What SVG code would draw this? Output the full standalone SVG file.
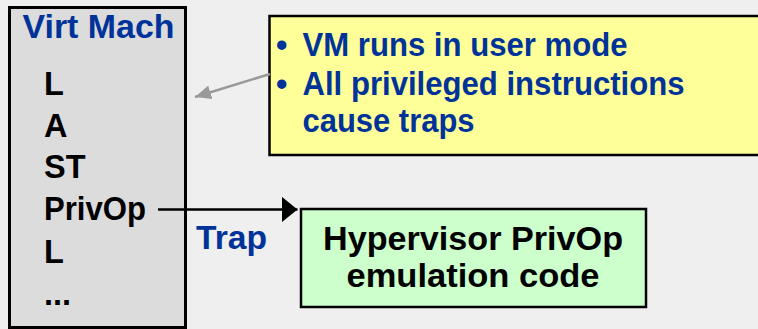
<svg xmlns="http://www.w3.org/2000/svg" width="758" height="329" viewBox="0 0 758 329">
<defs>
<style>
text{font-family:"Liberation Sans",Arial,Helvetica,sans-serif;font-weight:bold;font-size:32.5px;}
.k{fill:#000;}
.b{fill:#003399;}
</style>
<marker id="ah" viewBox="0 0 16 26" refX="16" refY="13" markerWidth="16" markerHeight="26" markerUnits="userSpaceOnUse" orient="auto"><path d="M0,0 L16,13 L0,26 Z" fill="#000"/></marker>
<marker id="ag" viewBox="0 0 16 14" refX="16" refY="7" markerWidth="16" markerHeight="14" markerUnits="userSpaceOnUse" orient="auto"><path d="M0,0 L16,7 L0,14 Z" fill="#999"/></marker>
</defs>
<rect x="0" y="0" width="758" height="329" fill="#efefef"/>
<g id="vm">
<rect x="9.5" y="7.5" width="176" height="320" fill="#dcdcdc" stroke="#000" stroke-width="3"/>
<text class="b" x="22.5" y="38" style="font-size:33.5px" textLength="152" lengthAdjust="spacingAndGlyphs">Virt Mach</text>
<text class="k" x="44" y="95">L</text>
<text class="k" x="44" y="137">A</text>
<text class="k" x="44" y="178">ST</text>
<text class="k" x="44" y="220" textLength="102" lengthAdjust="spacingAndGlyphs">PrivOp</text>
<text class="k" x="44" y="263">L</text>
<text class="k" x="44" y="305">...</text>
</g>
<g id="note">
<rect x="269.5" y="16" width="495" height="139" fill="#ffff99" stroke="#000" stroke-width="2.5"/>
<text class="b" x="276" y="56">•</text>
<text class="b" x="302.5" y="56" textLength="325" lengthAdjust="spacingAndGlyphs">VM runs in user mode</text>
<text class="b" x="276" y="95">•</text>
<text class="b" x="302.5" y="95" textLength="382" lengthAdjust="spacingAndGlyphs">All privileged instructions</text>
<text class="b" x="302.5" y="132" textLength="172" lengthAdjust="spacingAndGlyphs">cause traps</text>
</g>
<g id="hyp">
<rect x="301" y="209" width="345" height="98" fill="#ccffcc" stroke="#000" stroke-width="2.5"/>
<text class="k" x="473" y="249.5" text-anchor="middle" textLength="300" lengthAdjust="spacingAndGlyphs">Hypervisor PrivOp</text>
<text class="k" x="473" y="287" text-anchor="middle" textLength="253" lengthAdjust="spacingAndGlyphs">emulation code</text>
</g>
<g id="connectors">
<line x1="158" y1="209.5" x2="297.5" y2="209.5" stroke="#000" stroke-width="2.5" marker-end="url(#ah)"/>
<text class="b" x="196" y="249" textLength="71" lengthAdjust="spacingAndGlyphs">Trap</text>
<line x1="270" y1="74" x2="195" y2="97" stroke="#999" stroke-width="2.5" marker-end="url(#ag)"/>
</g>
</svg>
